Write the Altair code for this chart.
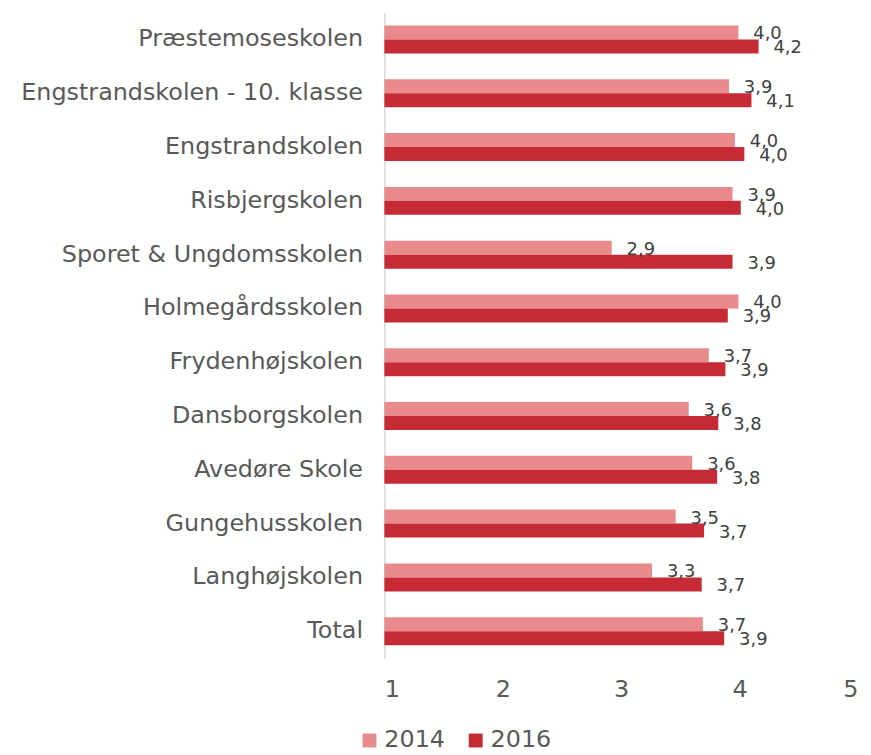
import altair as alt
import pandas as pd

schools = [
    "Præstemoseskolen",
    "Engstrandskolen - 10. klasse",
    "Engstrandskolen",
    "Risbjergskolen",
    "Sporet & Ungdomsskolen",
    "Holmegårdsskolen",
    "Frydenhøjskolen",
    "Dansborgskolen",
    "Avedøre Skole",
    "Gungehusskolen",
    "Langhøjskolen",
    "Total",
]
v2014 = [3.99, 3.91, 3.96, 3.94, 2.92, 3.99, 3.74, 3.57, 3.60, 3.46, 3.26, 3.69]
v2016 = [4.16, 4.10, 4.04, 4.01, 3.94, 3.90, 3.88, 3.82, 3.81, 3.70, 3.68, 3.87]
years = ["2014", "2016"]
colors = ["#E98A8C", "#C62A34"]

rows = []
for s, a, b in zip(schools, v2014, v2016):
    for y, v in zip(years, [a, b]):
        rows.append({"skole": s, "år": y, "værdi": v,
                     "label": f"{v:.1f}".replace(".", ",")})
df = pd.DataFrame(rows)

FONT = "DejaVu Sans"

base = alt.Chart(df).encode(
    y=alt.Y("skole:N", sort=schools, title=None,
            scale=alt.Scale(paddingInner=0.48, paddingOuter=0.24),
            axis=alt.Axis(labelFontSize=24, labelColor="#595959", labelFont=FONT,
                          labelPadding=22, ticks=False, domainColor="#D9D9D9",
                          domainWidth=1.5, minExtent=379, maxExtent=379,
                          labelLimit=400)),
    yOffset=alt.YOffset("år:N", sort=years),
)

bars = base.mark_bar().encode(
    x=alt.X("værdi:Q", title=None,
            scale=alt.Scale(domain=[1, 5], nice=False, zero=False),
            axis=alt.Axis(values=[1, 2, 3, 4, 5], format="d", labelFontSize=24,
                          labelColor="#595959", labelFont=FONT, domain=False,
                          ticks=False, grid=False, labelPadding=20)),
    x2=alt.datum(1),
    color=alt.Color("år:N", sort=years, title=None,
                    scale=alt.Scale(domain=years, range=colors),
                    legend=alt.Legend(orient="none", direction="horizontal",
                                      legendX=-27, legendY=721,
                                      symbolType="square", symbolSize=196,
                                      symbolStrokeWidth=0,
                                      labelFontSize=24, labelColor="#595959",
                                      labelFont=FONT, columnPadding=18,
                                      labelOffset=3)),
)

text = base.mark_text(align="left", baseline="middle", dx=15, dy=2,
                      fontSize=18, font=FONT, color="#404040").encode(
    x=alt.X("værdi:Q"),
    text="label:N",
)

chart = (bars + text).properties(
    width=477, height=650,
    padding={"left": 0, "top": 2, "right": 5, "bottom": 5},
).configure_view(stroke=None).configure_axis(grid=False)

chart.save("out.html", embed_options={"renderer": "svg", "actions": False})
